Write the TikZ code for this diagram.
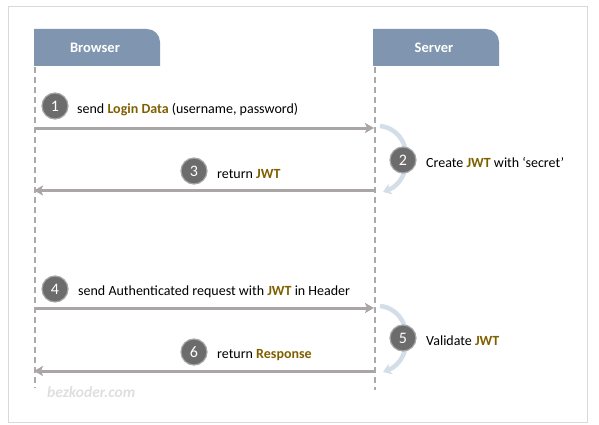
\documentclass[tikz,border=0pt]{standalone}
\usepackage{xcolor}
\usepackage{fontspec}
\setmainfont{Carlito}
\usepackage{tikz}
\usetikzlibrary{arrows.meta, positioning, calc}
\definecolor{hdrblue}{RGB}{128,150,176}
\definecolor{jwtgold}{RGB}{127,96,0}
\definecolor{msggray}{RGB}{170,166,166}
\definecolor{lifegray}{RGB}{170,170,170}
\definecolor{badgegray}{RGB}{108,108,108}
\definecolor{loopblue}{RGB}{212,222,232}
\newcommand{\kw}[1]{\textbf{\color{jwtgold}#1}}

\begin{document}
\begin{tikzpicture}[x=1pt, y=-1pt, font=\fontsize{14}{16}\selectfont,
  hdrtext/.style={text=white, font=\bfseries\fontsize{14.5}{16}\selectfont},
  life/.style={lifegray, line width=1.3pt, dash pattern=on 6pt off 4pt},
  msg/.style={msggray, line width=3pt, -{Stealth[length=9pt, width=10pt, inset=2pt]}},
  loopback/.style={loopblue, line width=4.5pt, -{Stealth[length=8pt, width=11pt, inset=2pt]}},
  numbadge/.style={circle, fill=badgegray, draw=gray!70, line width=1.2pt, minimum size=26pt, inner sep=0pt, text=white, font=\fontsize{16}{16}\selectfont},
  msgtext/.style={anchor=west, inner sep=0pt}]
  \useasboundingbox (0,0) rectangle (599,425);
  \draw[gray!30, line width=1pt] (8,7) rectangle (587,422);
  % Headers
  \fill[hdrblue] (34,66) -- (34,29) -- (147,29) arc(270:360:13) -- (160,66) -- cycle;
  \node[hdrtext] (browser) at (95,47.5) {Browser};
  \fill[hdrblue] (373,66) -- (373,29) -- (486,29) arc(270:360:13) -- (499,66) -- cycle;
  \node[hdrtext] (server) at (434,47.5) {Server};
  % Lifelines
  \coordinate (b-top) at (35,67);
  \coordinate (b-end) at (35,388);
  \coordinate (s-top) at (375,67);
  \coordinate (s-end) at (375,390);
  \draw[life] (b-top) -- (b-end);
  \draw[life] (s-top) -- (s-end);
  % Login
  \coordinate (b1) at (35,128);
  \coordinate (s1) at (374,128);
  \coordinate (s3) at (375,190.5);
  \coordinate (b3) at (34,190.5);
  \draw[msg] (b1) -- (s1);
  \draw[msg] (s3) -- (b3);
  \node[numbadge] (n1) at (55,106) {1};
  \node[msgtext] (t1) at (77,110) {send \kw{Login Data} (username, password)};
  \coordinate (c2a) at (380,126);
  \coordinate (c2b) at (383,192);
  \draw[loopback] (c2a) .. controls (414,130) and (414,180) .. (c2b);
  \node[numbadge] (n2) at (403,160) {2};
  \node[msgtext] (t2) at (426,163) {Create \kw{JWT} with `secret'};
  \node[numbadge] (n3) at (194,171) {3};
  \node[msgtext] (t3) at (217,174) {return \kw{JWT}};
  % Authenticated request
  \coordinate (b4) at (35,308);
  \coordinate (s4) at (374,308);
  \coordinate (s6) at (375,371);
  \coordinate (b6) at (34,371);
  \draw[msg] (b4) -- (s4);
  \draw[msg] (s6) -- (b6);
  \node[numbadge] (n4) at (55,289) {4};
  \node[msgtext] (t4) at (78,292) {send Authenticated request with \kw{JWT} in Header};
  \coordinate (c5a) at (380,306);
  \coordinate (c5b) at (383,372);
  \draw[loopback] (c5a) .. controls (414,310) and (414,360) .. (c5b);
  \node[numbadge] (n5) at (403,338) {5};
  \node[msgtext] (t5) at (426,341) {Validate \kw{JWT}};
  \node[numbadge] (n6) at (194,352) {6};
  \node[msgtext] (t6) at (217,355) {return \kw{Response}};
  % Watermark
  \node[msgtext, text=gray!25, font=\bfseries\itshape\fontsize{15.5}{16}\selectfont] (mark) at (47,392) {bezkoder.com};
\end{tikzpicture}
\end{document}
